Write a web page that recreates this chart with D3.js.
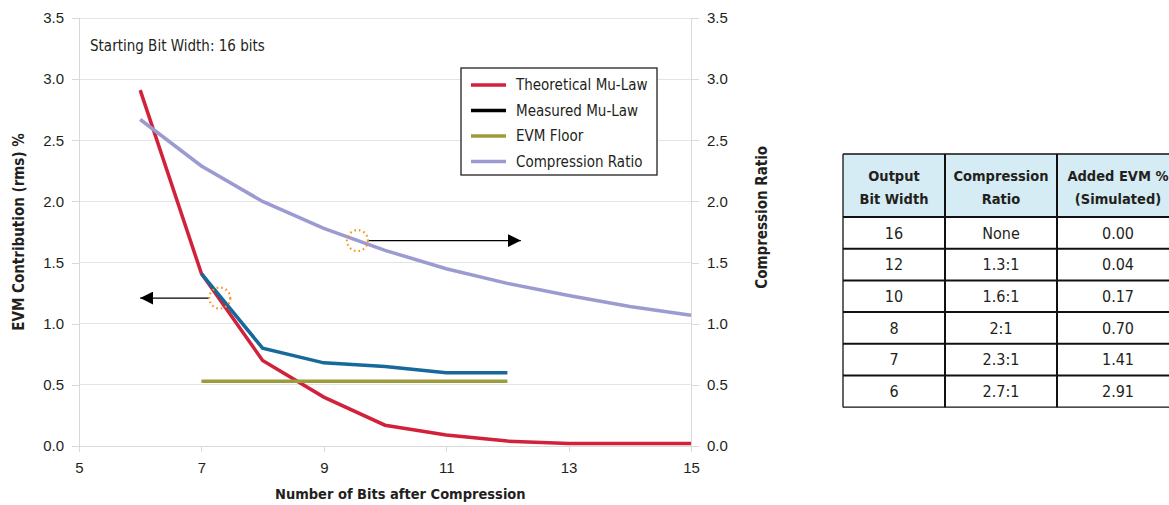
<!DOCTYPE html>
<html lang="en">
<head>
<meta charset="utf-8">
<title>EVM vs Bits after Compression</title>
<script src="https://cdn.jsdelivr.net/npm/d3@7"></script>
<style>
  body { margin: 0; background: #fff; }
  svg { font-family: "Liberation Sans Narrow", "DejaVu Sans Condensed", "Noto Sans", sans-serif; }
  .axis path, .axis line { stroke: #d9d9d9; shape-rendering: crispEdges; }
  .axis text { fill: #231f20; font-size: 15px; }
  .grid line { stroke: #e4e4e4; shape-rendering: crispEdges; }
</style>
</head>
<body>
<script>
// chart data
var bits        = [6, 7, 8, 9, 10, 11, 12, 13, 14, 15];
var theoretical = [2.91, 1.41, 0.70, 0.40, 0.17, 0.09, 0.04, 0.02, 0.02, 0.02];
var measuredBits = [7, 8, 9, 10, 11, 12];
var measured     = [1.41, 0.80, 0.68, 0.65, 0.60, 0.60];
var floorBits = [7, 12];
var evmFloor  = [0.53, 0.53];
var ratio = [2.67, 2.29, 2.00, 1.78, 1.60, 1.45, 1.33, 1.23, 1.14, 1.07];

var xTicks = [5, 7, 9, 11, 13, 15];
var yTicks = [0, 0.5, 1, 1.5, 2, 2.5, 3, 3.5];

var seriesNames  = ["Theoretical Mu-Law", "Measured Mu-Law", "EVM Floor", "Compression Ratio"];
var seriesColors = ["#d1213b", "#000000", "#9c9c3c", "#9b9bd1"];

// table data
var tableHead  = [["Output", "Bit Width"], ["Compression", "Ratio"], ["Added EVM %", "(Simulated)"]];
var tableBits  = ["16", "12", "10", "8", "7", "6"];
var tableRatio = ["None", "1.3:1", "1.6:1", "2:1", "2.3:1", "2.7:1"];
var tableEvm   = ["0.00", "0.04", "0.17", "0.70", "1.41", "2.91"];

// annotation arrows: circle centre and arrow end, in data units (left axis)
var arrows = [
  {cx: 9.55, cy: 1.68, x2: 12.22},
  {cx: 7.30, cy: 1.21, x2: 6.0}
];

var W = 1169, H = 505;
var mLeft = 79, mRight = 691, mTop = 18, mBottom = 446;

var svg = d3.select("body").append("svg")
  .attr("width", W).attr("height", H);

var x = d3.scaleLinear().domain([5, 15]).range([mLeft, mRight]);
var y = d3.scaleLinear().domain([0, 3.5]).range([mBottom, mTop]);
var y2 = d3.scaleLinear().domain([0, 3.5]).range([mBottom, mTop]);

// gridlines
svg.append("g").attr("class", "grid")
  .selectAll("line").data(yTicks.slice(1)).enter().append("line")
  .attr("x1", mLeft).attr("x2", mRight)
  .attr("y1", function(d){ return y(d); }).attr("y2", function(d){ return y(d); });

// axes
var fmt = d3.format(".1f");
svg.append("g").attr("class", "axis")
  .attr("transform", "translate(" + mLeft + ",0)")
  .call(d3.axisLeft(y).tickValues(yTicks).tickFormat(fmt).tickSize(7).tickPadding(8));

svg.append("g").attr("class", "axis")
  .attr("transform", "translate(" + mRight + ",0)")
  .call(d3.axisRight(y2).tickValues(yTicks).tickFormat(fmt).tickSize(8).tickPadding(8));

svg.append("g").attr("class", "axis")
  .attr("transform", "translate(0," + mBottom + ")")
  .call(d3.axisBottom(x).tickValues(xTicks).tickFormat(d3.format("d")).tickSize(6).tickPadding(10));

// axis titles
svg.append("text")
  .attr("transform", "translate(24," + y(1.75) + ") rotate(-90)")
  .attr("text-anchor", "middle")
  .attr("font-size", 15).attr("font-weight", "bold").attr("fill", "#231f20")
  .text("EVM Contribution (rms) %");

svg.append("text")
  .attr("transform", "translate(767," + y(1.87) + ") rotate(-90)")
  .attr("text-anchor", "middle")
  .attr("font-size", 15).attr("font-weight", "bold").attr("fill", "#231f20")
  .text("Compression Ratio");

svg.append("text")
  .attr("x", x(10.25)).attr("y", 499)
  .attr("text-anchor", "middle")
  .attr("font-size", 14.5).attr("font-weight", "bold").attr("fill", "#231f20")
  .text("Number of Bits after Compression");

svg.append("text")
  .attr("x", 90).attr("y", 51)
  .attr("font-size", 15).attr("fill", "#231f20")
  .text("Starting Bit Width: 16 bits");

// lines
var line = d3.line()
  .x(function(d){ return x(d[0]); })
  .y(function(d){ return y(d[1]); });
var line2 = d3.line()
  .x(function(d){ return x(d[0]); })
  .y(function(d){ return y2(d[1]); });

function pairs(xs, ys) { return xs.map(function(v, i){ return [v, ys[i]]; }); }

svg.append("path").datum(pairs(bits, theoretical))
  .attr("d", line).attr("fill", "none")
  .attr("stroke", seriesColors[0]).attr("stroke-width", 3.5);

svg.append("path").datum(pairs(floorBits, evmFloor))
  .attr("d", line).attr("fill", "none")
  .attr("stroke", seriesColors[2]).attr("stroke-width", 3.5);

svg.append("path").datum(pairs(measuredBits, measured))
  .attr("d", line).attr("fill", "none")
  .attr("stroke", "#16699a").attr("stroke-width", 3.5);

svg.append("path").datum(pairs(bits, ratio))
  .attr("d", line2).attr("fill", "none")
  .attr("stroke", seriesColors[3]).attr("stroke-width", 3.5);

// arrows + dotted circles
svg.append("defs").append("marker")
  .attr("id", "head").attr("viewBox", "0 0 10 10")
  .attr("refX", 10).attr("refY", 5)
  .attr("markerWidth", 13).attr("markerHeight", 13)
  .attr("markerUnits", "userSpaceOnUse").attr("orient", "auto")
  .append("path").attr("d", "M0,0L10,5L0,10Z").attr("fill", "#000");

arrows.forEach(function(a) {
  var dir = a.x2 > a.cx ? 1 : -1;
  svg.append("line")
    .attr("x1", x(a.cx) + dir * 11).attr("x2", x(a.x2))
    .attr("y1", y(a.cy)).attr("y2", y(a.cy))
    .attr("stroke", "#000").attr("stroke-width", 1.3)
    .attr("marker-end", "url(#head)");
  svg.append("circle")
    .attr("cx", x(a.cx)).attr("cy", y(a.cy)).attr("r", 10.5)
    .attr("fill", "none").attr("stroke", "#f7941d")
    .attr("stroke-width", 2.2).attr("stroke-dasharray", "1.6,3");
});

// legend
var lg = svg.append("g").attr("transform", "translate(461,68)");
lg.append("rect").attr("width", 196).attr("height", 107)
  .attr("fill", "#fff").attr("stroke", "#231f20").attr("stroke-width", 1.3);
seriesNames.forEach(function(name, i) {
  var ly = 17 + i * 25.5;
  lg.append("line").attr("x1", 10).attr("x2", 45)
    .attr("y1", ly).attr("y2", ly)
    .attr("stroke", seriesColors[i]).attr("stroke-width", 3.5);
  lg.append("text").attr("x", 55).attr("y", ly).attr("dy", "0.35em")
    .attr("font-size", 15).attr("fill", "#231f20").text(name);
});

// table
var colX = [843, 945, 1057, 1179];
var rowY0 = 154, headH = 63, rowH = 31.7;
var tb = svg.append("g");

tb.append("rect").attr("x", colX[0]).attr("y", rowY0)
  .attr("width", colX[3] - colX[0]).attr("height", headH)
  .attr("fill", "#d5ecf4");

tableHead.forEach(function(h, c) {
  var cx = (colX[c] + colX[c + 1]) / 2;
  h.forEach(function(t, k) {
    tb.append("text").attr("x", cx).attr("y", rowY0 + 27 + k * 23)
      .attr("text-anchor", "middle").attr("font-size", 14.5)
      .attr("font-weight", "bold").attr("fill", "#231f20").text(t);
  });
});

var cols = [tableBits, tableRatio, tableEvm];
tableBits.forEach(function(d, r) {
  var ry = rowY0 + headH + r * rowH;
  cols.forEach(function(col, c) {
    tb.append("text").attr("x", (colX[c] + colX[c + 1]) / 2)
      .attr("y", ry + rowH / 2).attr("dy", "0.36em")
      .attr("text-anchor", "middle").attr("font-size", 16)
      .attr("fill", "#231f20").text(col[r]);
  });
});

var tableBottom = rowY0 + headH + tableBits.length * rowH;
// horizontal rules
var hRules = [rowY0, rowY0 + headH];
for (var r = 1; r <= tableBits.length; r++) hRules.push(rowY0 + headH + r * rowH);
tb.selectAll(".hr").data(hRules).enter().append("line")
  .attr("x1", colX[0]).attr("x2", colX[3])
  .attr("y1", function(d){ return d; }).attr("y2", function(d){ return d; })
  .attr("stroke", "#111").attr("stroke-width", function(d, i){ return (i === 0 || i === hRules.length - 1) ? 1.3 : 2; });
// vertical rules
tb.selectAll(".vr").data(colX).enter().append("line")
  .attr("x1", function(d){ return d; }).attr("x2", function(d){ return d; })
  .attr("y1", rowY0).attr("y2", tableBottom)
  .attr("stroke", "#111").attr("stroke-width", function(d, i){ return i === 0 ? 1.3 : 2; });
</script>
</body>
</html>
